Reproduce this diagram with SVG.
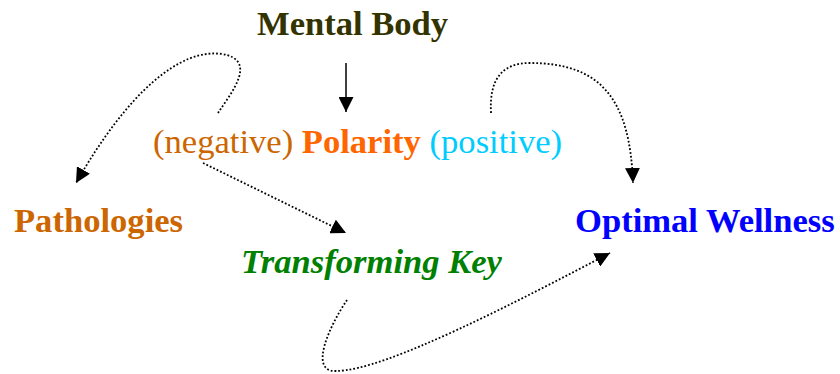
<svg xmlns="http://www.w3.org/2000/svg" width="840" height="374" viewBox="0 0 840 374">
<style>
text{font-family:"Liberation Serif","Times New Roman",serif;font-size:34.6px}
.b{font-weight:bold}
.dot{fill:none;stroke:#000;stroke-width:1.8;stroke-dasharray:1.8 2;marker-end:url(#ah)}
.solid{fill:none;stroke:#000;stroke-width:1.5;marker-end:url(#ah)}
</style>
<defs>
<marker id="ah" viewBox="0 0 10 10" refX="10" refY="5" markerWidth="15" markerHeight="15" markerUnits="userSpaceOnUse" orient="auto" preserveAspectRatio="none">
<path d="M0,0 L10,5 L0,10 z" fill="#000"/>
</marker>
</defs>
<g id="mental-body"><text class="b" x="257" y="35" fill="#333300">Mental Body</text></g>
<g id="polarity"><text x="153" y="153"><tspan fill="#CC6600">(negative) </tspan><tspan class="b" fill="#FF6600">Polarity</tspan><tspan fill="#00CCFF"> (positive)</tspan></text></g>
<g id="pathologies"><text class="b" x="14" y="232" fill="#CC6600">Pathologies</text></g>
<g id="optimal-wellness"><text class="b" x="575" y="232" fill="#0000FF">Optimal Wellness</text></g>
<g id="transforming-key"><text class="b" x="241" y="273" fill="#008000" font-style="italic">Transforming Key</text></g>
<g id="connectors">
<path class="solid" d="M346,63 L346,112"/>
<path class="dot" d="M218,113 C232,92 258,60 222,54 C180,48 128,92 76,183"/>
<path class="dot" d="M491,113 C489,78 503,63 530,63 C600,63 630,98 633,183"/>
<path class="dot" d="M203,163 L346,233"/>
<path class="dot" d="M347,300 C330,325 308,372 336,371 C385,371 520,300 610,253"/>
</g>
</svg>
